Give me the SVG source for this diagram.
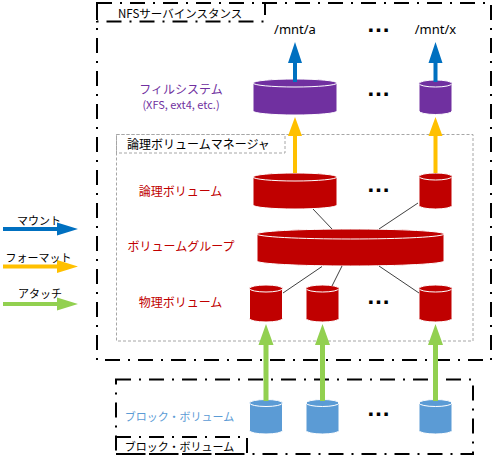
<svg xmlns="http://www.w3.org/2000/svg" width="494" height="459" viewBox="0 0 494 459">
<style>
.frame{fill:none;stroke:#000;stroke-width:2;stroke-dasharray:15 8 2 8}
.lvm{fill:none;stroke:#A6A6A6;stroke-width:1;stroke-dasharray:3 2}
.t{font-family:"Noto Sans CJK JP","Noto Sans",sans-serif;font-size:12px}
.lat{font-family:"Noto Sans","Liberation Sans",sans-serif;font-size:13px;fill:#000}
.dots{font-family:"Liberation Sans",sans-serif;font-size:24px;font-weight:bold;fill:#000}
.cyl{stroke:#fff;stroke-width:1}
.purple{fill:#7030A0}
.red{fill:#C00000}
.blk{fill:#5B9BD5}
.ln{stroke:#404040;stroke-width:1}
.ab{fill:#0070C0}
.ay{fill:#FFC000}
.ag{fill:#92D050}
</style>
<rect width="494" height="459" fill="#fff"/>

<g id="nfs-instance">
<rect class="frame" x="97" y="3" width="394" height="357"/>
<rect class="frame" x="97" y="3" width="168" height="18.5"/>
<text class="t" x="118" y="18" style="font-size:11.5px">NFSサーバインスタンス</text>
</g>

<g id="lvm">
<rect class="lvm" x="116.5" y="134.5" width="356.5" height="206.5"/>
<rect class="lvm" x="116.5" y="134.5" width="168.5" height="18.5"/>
<text class="t" x="127" y="149">論理ボリュームマネージャ</text>
</g>

<g id="block-frame">
<rect class="frame" x="116" y="379.5" width="357" height="74.5"/>
<rect class="frame" x="116" y="437" width="131" height="17"/>
<text class="t" x="179.5" y="451" text-anchor="middle" style="font-size:11px">ブロック・ボリューム</text>
</g>

<g id="labels">
<text class="t" x="181" y="94" text-anchor="middle" fill="#7030A0">フィルシステム</text>
<text class="t" x="181" y="109" text-anchor="middle" fill="#7030A0" style="font-size:11px">(XFS, ext4, etc.)</text>
<text class="t" x="180.5" y="196" text-anchor="middle" fill="#C00000">論理ボリューム</text>
<text class="t" x="181" y="251" text-anchor="middle" fill="#C00000">ボリュームグループ</text>
<text class="t" x="180.5" y="307" text-anchor="middle" fill="#C00000">物理ボリューム</text>
<text class="t" x="179.5" y="421" text-anchor="middle" fill="#5B9BD5" style="font-size:11px">ブロック・ボリューム</text>
<text class="lat" x="295" y="34" text-anchor="middle">/mnt/a</text>
<text class="lat" x="435.5" y="34" text-anchor="middle">/mnt/x</text>
<text class="dots" x="378.5" y="32" text-anchor="middle">…</text>
<text class="dots" x="378.5" y="96" text-anchor="middle">…</text>
<text class="dots" x="378.5" y="192" text-anchor="middle">…</text>
<text class="dots" x="378.5" y="304" text-anchor="middle">…</text>
<text class="dots" x="378.5" y="416" text-anchor="middle">…</text>
</g>

<g id="fs-a">
<path class="cyl purple" d="M253,83 L253,111 A42,4 0 0 0 337,111 L337,83 A42,4 0 0 0 253,83 Z"/>
<ellipse class="cyl purple" cx="295" cy="83" rx="42" ry="4"/>
</g>
<g id="fs-x">
<path class="cyl purple" d="M419,83.5 L419,111 A16.5,3.5 0 0 0 452,111 L452,83.5 A16.5,3.5 0 0 0 419,83.5 Z"/>
<ellipse class="cyl purple" cx="435.5" cy="83.5" rx="16.5" ry="3.5"/>
</g>

<g id="lv-a">
<path class="cyl red" d="M253,177 L253,205 A42,4 0 0 0 337,205 L337,177 A42,4 0 0 0 253,177 Z"/>
<ellipse class="cyl red" cx="295" cy="177" rx="42" ry="4"/>
</g>
<g id="lv-x">
<path class="cyl red" d="M419,176.5 L419,205.5 A16.5,3.5 0 0 0 452,205.5 L452,176.5 A16.5,3.5 0 0 0 419,176.5 Z"/>
<ellipse class="cyl red" cx="435.5" cy="176.5" rx="16.5" ry="3.5"/>
</g>

<g id="vg">
<path class="cyl red" d="M257,234 L257,261 A93.5,5 0 0 0 444,261 L444,234 A93.5,5 0 0 0 257,234 Z"/>
<ellipse class="cyl red" cx="350.5" cy="234" rx="93.5" ry="5"/>
</g>

<g id="pv-1">
<path class="cyl red" d="M249.5,288.5 L249.5,318.5 A16.5,3.5 0 0 0 282.5,318.5 L282.5,288.5 A16.5,3.5 0 0 0 249.5,288.5 Z"/>
<ellipse class="cyl red" cx="266" cy="288.5" rx="16.5" ry="3.5"/>
</g>
<g id="pv-2">
<path class="cyl red" d="M306,288.5 L306,318.5 A16.5,3.5 0 0 0 339,318.5 L339,288.5 A16.5,3.5 0 0 0 306,288.5 Z"/>
<ellipse class="cyl red" cx="322.5" cy="288.5" rx="16.5" ry="3.5"/>
</g>
<g id="pv-x">
<path class="cyl red" d="M419,288.5 L419,318.5 A16.5,3.5 0 0 0 452,318.5 L452,288.5 A16.5,3.5 0 0 0 419,288.5 Z"/>
<ellipse class="cyl red" cx="435.5" cy="288.5" rx="16.5" ry="3.5"/>
</g>

<g id="bv-1">
<path class="cyl blk" d="M249.5,403 L249.5,430.5 A16.5,3.5 0 0 0 282.5,430.5 L282.5,403 A16.5,3.5 0 0 0 249.5,403 Z"/>
<ellipse class="cyl blk" cx="266" cy="403" rx="16.5" ry="3.5"/>
</g>
<g id="bv-2">
<path class="cyl blk" d="M306,403 L306,430.5 A16.5,3.5 0 0 0 339,430.5 L339,403 A16.5,3.5 0 0 0 306,403 Z"/>
<ellipse class="cyl blk" cx="322.5" cy="403" rx="16.5" ry="3.5"/>
</g>
<g id="bv-x">
<path class="cyl blk" d="M419,403 L419,430.5 A16.5,3.5 0 0 0 452,430.5 L452,403 A16.5,3.5 0 0 0 419,403 Z"/>
<ellipse class="cyl blk" cx="435.5" cy="403" rx="16.5" ry="3.5"/>
</g>

<g id="connectors">
<line class="ln" x1="313" y1="209" x2="332" y2="229"/>
<line class="ln" x1="418" y1="203" x2="379" y2="229"/>
<line class="ln" x1="322" y1="266.5" x2="283" y2="293"/>
<line class="ln" x1="342" y1="266" x2="332" y2="286"/>
<line class="ln" x1="379" y1="266" x2="419" y2="293"/>
<polygon class="ab" points="293,82 293,63 288,63 295,42 302,63 297,63 297,82"/>
<polygon class="ab" points="433.5,82 433.5,63 428.5,63 435.5,42 442.5,63 437.5,63 437.5,82"/>
<polygon class="ay" points="293,173 293,136 288,136 295,117 302,136 297,136 297,173"/>
<polygon class="ay" points="433.5,173 433.5,136 428.5,136 435.5,117 442.5,136 437.5,136 437.5,173"/>
<polygon class="ag" points="263.5,401 263.5,345 258.5,345 266,324 273.5,345 268.5,345 268.5,401"/>
<polygon class="ag" points="320,401 320,345 315,345 322.5,324 330,345 325,345 325,401"/>
<polygon class="ag" points="433,401 433,345 428,345 435.5,324 443,345 438,345 438,401"/>
</g>

<g id="legend">
<polygon class="ab" points="3,227 57,227 57,222.5 78,229 57,235.5 57,231 3,231"/>
<polygon class="ay" points="3,264.5 57,264.5 57,260 78,266.5 57,273 57,268.5 3,268.5"/>
<polygon class="ag" points="3,302 57,302 57,297.5 78,304 57,310.5 57,306 3,306"/>
<text class="t" x="39" y="225" text-anchor="middle" style="font-size:11px">マウント</text>
<text class="t" x="38.5" y="262" text-anchor="middle" style="font-size:11px">フォーマット</text>
<text class="t" x="40" y="298" text-anchor="middle" style="font-size:11px">アタッチ</text>
</g>
</svg>
